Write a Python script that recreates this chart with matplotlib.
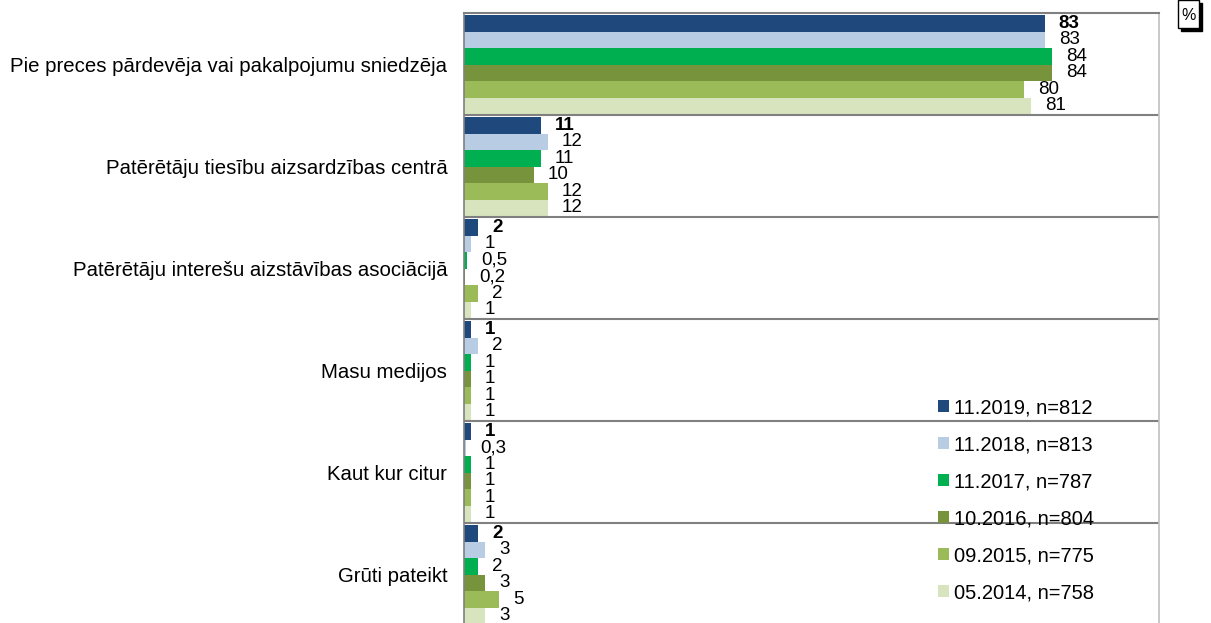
import matplotlib.pyplot as plt
import matplotlib.patches as mpatches
import numpy as np

plt.rcParams['font.family'] = ['Liberation Sans', 'DejaVu Sans']

categories = ["Pie preces pārdevēja vai pakalpojumu sniedzēja",
              "Patērētāju tiesību aizsardzības centrā",
              "Patērētāju interešu aizstāvības asociācijā",
              "Masu medijos",
              "Kaut kur citur",
              "Grūti pateikt"]
series_names = ["11.2019, n=812", "11.2018, n=813", "11.2017, n=787",
                "10.2016, n=804", "09.2015, n=775", "05.2014, n=758"]
s2019 = [83, 11, 2, 1, 1, 2]
s2018 = [83, 12, 1, 2, 0.3, 3]
s2017 = [84, 11, 0.5, 1, 1, 2]
s2016 = [84, 10, 0.2, 1, 1, 3]
s2015 = [80, 12, 2, 1, 1, 5]
s2014 = [81, 12, 1, 1, 1, 3]
colors = ['#1F497D', '#B8CCE4', '#00B050', '#77933C', '#9BBB59', '#D7E4BD']

all_series = [s2019, s2018, s2017, s2016, s2015, s2014]

fig = plt.figure(figsize=(12.11, 6.23), dpi=100)
ax = fig.add_axes([464 / 1211, -2 / 623, 695 / 1211, 612 / 623])

n_groups = len(categories)
bar_h = 0.162
grp = np.arange(n_groups)

handles = []
for j, (vals, col, name) in enumerate(zip(all_series, colors, series_names)):
    ypos = grp + 0.02 + (j + 0.5) * bar_h
    b = ax.barh(ypos, vals, height=bar_h, color=col, label=name)
    handles.append(b)
    for y, v in zip(ypos, vals):
        txt = f"{v:.1f}".replace('.', ',') if v < 1 else f"{v:.0f}"
        ax.annotate(txt, (v, y), xytext=(10, 0), textcoords='offset points',
                    ha='left', va='center', fontsize=13.5,
                    fontweight='bold' if j == 0 else 'normal')

ax.set_xlim(0, 99.3)
ax.set_ylim(n_groups, 0)
ax.set_xticks([])
ax.set_yticks(grp + 0.5)
ax.set_yticklabels(categories, fontsize=14.7)
ax.tick_params(axis='y', length=0, pad=12)

for k in range(1, n_groups):
    ax.axhline(k, color='#808080', lw=1.5)

ax.spines['top'].set_color('#808080')
ax.spines['top'].set_linewidth(1.5)
ax.spines['left'].set_color('#808080')
ax.spines['left'].set_linewidth(1.2)
ax.spines['right'].set_color('#c0c0c0')
ax.spines['right'].set_linewidth(1.2)
ax.spines['bottom'].set_visible(False)

fig.legend(handles=handles, loc='upper left',
           bbox_to_anchor=(938 / 1211, 1 - 398 / 623),
           frameon=False, fontsize=14.5, borderpad=0, borderaxespad=0,
           handlelength=0.55, handleheight=0.55, handletextpad=0.25,
           labelspacing=0.895)

# "%" box with shadow
fig.patches.append(mpatches.Rectangle((1181 / 1211, 1 - 31 / 623), 21 / 1211, 28 / 623,
                                      transform=fig.transFigure, facecolor='black',
                                      edgecolor='black', zorder=2))
fig.patches.append(mpatches.Rectangle((1178 / 1211, 1 - 28 / 623), 21 / 1211, 28 / 623,
                                      transform=fig.transFigure, facecolor='white',
                                      edgecolor='black', lw=1, zorder=3))
fig.text(1188.5 / 1211, 1 - 15 / 623, "%", ha='center', va='center', fontsize=11.5, zorder=4)

fig.savefig('out.png', dpi=100)
